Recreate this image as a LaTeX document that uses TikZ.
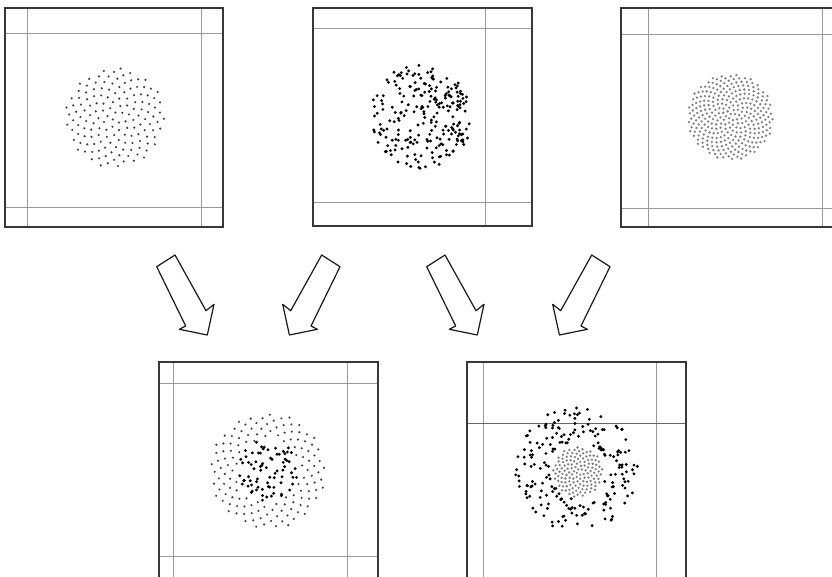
\documentclass[tikz,border=0pt]{standalone}
\newcommand\myblockarrow{\draw[arrowline] (156.7,266.7) -- (175,255) -- (206,310.7) -- (214,304.3) -- (207.3,335) -- (179.3,329.3) -- (185.7,326) -- cycle;}
\begin{document}
\begin{tikzpicture}[x=1pt,y=-1pt,
  outer/.style={draw=black!78, line width=1.4pt},
  inner/.style={draw=black!40, line width=0.9pt},
  arrowline/.style={draw=black!90, line width=1.2pt, fill=white, line join=round},
  dotA/.style={fill=black!75},
  dotB/.style={fill=black},
  dotC/.style={fill=black!50}]
\useasboundingbox (0,0) rectangle (832,577);
\clip (0,0) rectangle (832,577);
% top box 1
\draw[inner] (27,8) -- (27,227) (201,8) -- (201,227) (5,33) -- (223,33) (5,207) -- (223,207);
\draw[outer] (5,8) rectangle (223,227);
\foreach \i in {1,...,150}{
  \pgfmathsetmacro\rr{50*sqrt((\i-0.5)/150)}
  \pgfmathsetmacro\aa{360*(\i*0.381966-floor(\i*0.381966))}
  \fill[dotA] (115,117.5) ++(\aa:\rr) circle (1.2pt);
}
% top box 2
\draw[inner] (485,8) -- (485,226) (313,28) -- (532,28) (313,202) -- (532,202);
\draw[outer] (313,8) rectangle (532,226);
\pgfmathsetseed{17}
\foreach \i in {1,...,230}{
  \pgfmathsetmacro\rr{52*sqrt(rnd)}
  \pgfmathsetmacro\aa{360*rnd}
  \fill[dotB] (420,117) ++(\aa:\rr) circle (1.6pt);
}
% top box 3
\draw[inner] (648,8) -- (648,227) (822,8) -- (822,227) (621,34) -- (850,34) (621,208) -- (850,208);
\draw[outer] (621,8) rectangle (850,227);
\foreach \i in {1,...,300}{
  \pgfmathsetmacro\rr{43*sqrt((\i-0.5)/300)}
  \pgfmathsetmacro\aa{360*(\i*0.381966-floor(\i*0.381966))}
  \fill[dotC] (730.5,117) ++(\aa:\rr) circle (1.3pt);
}
% arrows
\myblockarrow
\begin{scope}[xshift=496.7pt, xscale=-1]\myblockarrow\end{scope}
\begin{scope}[xshift=270pt]\myblockarrow\end{scope}
\begin{scope}[xshift=766.7pt, xscale=-1]\myblockarrow\end{scope}
% bottom box 1
\draw[inner] (173,362) -- (173,600) (347,362) -- (347,600) (159,383) -- (378,383) (159,556) -- (378,556);
\draw[outer] (159,362) rectangle (378,600);
\foreach \i in {58,...,190}{
  \pgfmathsetmacro\rr{58*sqrt((\i-0.5)/190)}
  \pgfmathsetmacro\aa{360*(\i*0.381966-floor(\i*0.381966))}
  \fill[dotA] (268,471) ++(\aa:\rr) circle (1.2pt);
}
\pgfmathsetseed{5}
\foreach \i in {1,...,75}{
  \pgfmathsetmacro\rr{31*sqrt(rnd)}
  \pgfmathsetmacro\aa{360*rnd}
  \fill[dotB] (268,471) ++(\aa:\rr) circle (1.6pt);
}
% bottom box 2
\draw[inner] (483,362) -- (483,600) (656,362) -- (656,600);
\draw[draw=black!60, line width=0.9pt] (467,423) -- (686,423);
\draw[outer] (467,362) rectangle (686,600);
\foreach \i in {1,...,130}{
  \pgfmathsetmacro\rr{25*sqrt((\i-0.5)/130)}
  \pgfmathsetmacro\aa{360*(\i*0.381966-floor(\i*0.381966))}
  \fill[dotC] (578,472) ++(\aa:\rr) circle (1.3pt);
}
\pgfmathsetseed{23}
\foreach \i in {1,...,200}{
  \pgfmathsetmacro\rr{sqrt(28*28+rnd*(62*62-28*28))}
  \pgfmathsetmacro\aa{360*rnd}
  \fill[dotB] (577,469) ++(\aa:\rr) circle (1.6pt);
}
\end{tikzpicture}
\end{document}
